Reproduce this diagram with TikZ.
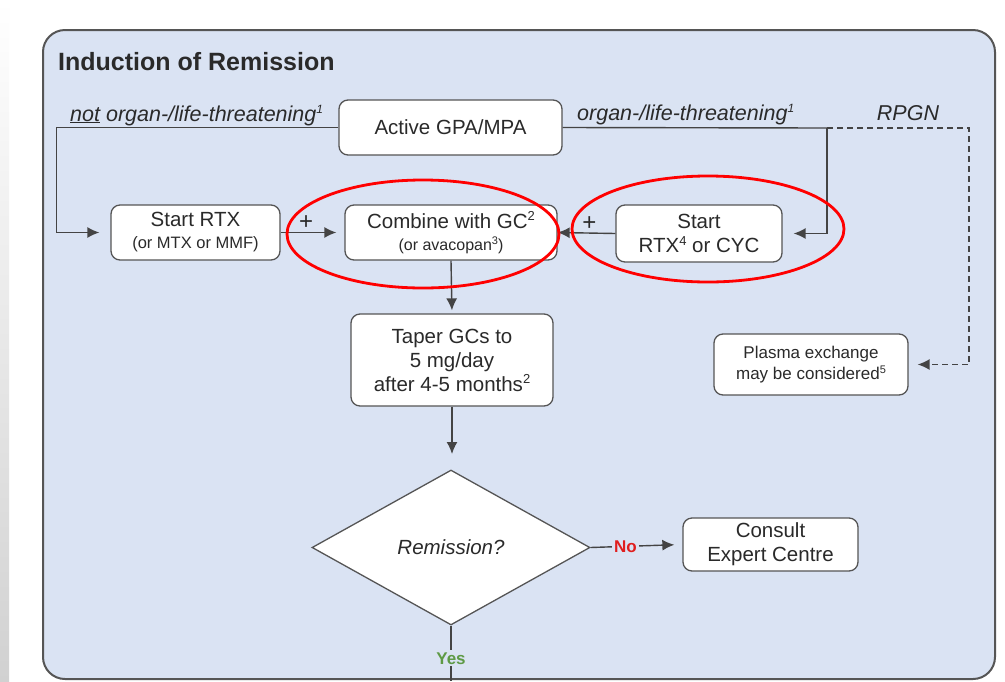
\documentclass[tikz,border=0pt]{standalone}
\usepackage{fontspec}
\setmainfont{Liberation Sans}
\usetikzlibrary{shapes.geometric,arrows.meta}
\definecolor{panelbg}{HTML}{DAE3F3}
\definecolor{edge}{HTML}{555555}
\definecolor{ink}{HTML}{2A2A2A}
\definecolor{nored}{HTML}{E01E1E}
\definecolor{yesgreen}{HTML}{5E9A45}
\newcommand\supx[2]{\raisebox{0.36em}{\fontsize{#1}{#1}\selectfont #2}}
\tikzset{
  box/.style={draw=edge, line width=1.3pt, rounded corners=9pt, fill=white, align=center, inner sep=0pt, text=ink},
  conn/.style={draw=edge!80!black, line width=1.4pt},
  arr/.style={conn, -{Latex[length=12pt,width=11pt]}},
  lbl/.style={text=ink, font=\itshape\fontsize{21.5}{24}\selectfont, inner sep=0pt},
  plus/.style={above=2pt, text=ink, inner sep=0pt, font=\fontsize{24}{24}\selectfont},
  redring/.style={draw=red, line width=2.8pt},
}
\begin{document}
\begin{tikzpicture}[x=1pt,y=-1pt, font=\fontsize{20.5}{24}\selectfont]
\useasboundingbox (0,0) rectangle (1005,681);
\fill[white] (0,0) rectangle (1005,681);
\shade[top color=white, bottom color=black!18] (0,0) rectangle (9,681);
% panel
\draw[draw=edge, line width=2pt, fill=panelbg, rounded corners=22pt] (43,30) rectangle (995,679);
\node[anchor=base west, text=ink, font=\bfseries\fontsize{25}{30}\selectfont, inner sep=0pt] (title) at (58,70) {Induction of Remission};
% nodes
\node[box, minimum width=223pt, minimum height=55pt] (active) at (450.5,127.5) {Active GPA/MPA};
\node[box, minimum width=169pt, minimum height=55pt] (start) at (195.5,232.5) {Start RTX\\[-2pt]{\fontsize{16.5}{18}\selectfont (or MTX or MMF)}};
\node[box, minimum width=212pt, minimum height=55pt] (combine) at (451,232.5) {Combine with GC\supx{13}{2}\\[-2pt]{\fontsize{16}{18}\selectfont (or avacopan\supx{11}{3})}};
\node[box, minimum width=166pt, minimum height=57pt] (startr) at (699,233.5) {Start\\RTX\supx{13}{4} or CYC};
\node[box, minimum width=202pt, minimum height=92pt] (taper) at (452,360) {Taper GCs to\\5 mg/day\\after 4-5 months\supx{13}{2}};
\node[box, minimum width=194pt, minimum height=61pt, font=\fontsize{17}{21}\selectfont] (plasma) at (811,364.5) {Plasma exchange\\may be considered\supx{11}{5}};
\node[diamond, draw=edge, line width=1.3pt, fill=white, minimum width=278pt, minimum height=155pt, inner sep=0pt, text=ink, font=\itshape\fontsize{20.5}{24}\selectfont] (dia) at (451,547.5) {Remission?};
\node[box, minimum width=175pt, minimum height=53pt] (consult) at (770.5,544.5) {Consult\\Expert Centre};
% labels
\node[lbl, anchor=base west] (lnot) at (70,121) {\underline{not} organ-/life-threatening\supx{12}{1}};
\node[lbl, anchor=base west] (lorg) at (577,120) {organ-/life-threatening\supx{12}{1}};
\node[lbl, anchor=base] (lrpgn) at (908,120) {RPGN};
% coordinates
\coordinate (split) at (827,128);
\coordinate (taperend) at (452,454);
\coordinate (yesend) at (451,681);
% connectors
\draw[arr, shorten >=11pt] (active.west) -- ++(-282,0) |- (start.west);
\draw[arr, shorten >=8pt] (start.east) -- (combine.west) node[pos=0.4, plus]{+};
\draw[arr, shorten >=0pt] (startr.west) -- (combine.east) node[pos=0.45, plus]{+};
\draw[conn] (active.east) -- (split);
\draw[arr, shorten >=11pt] (split) |- (startr.east);
\draw[arr, dashed, dash pattern=on 6pt off 4pt, shorten >=9pt] (split) -- ++(142,0) |- (plasma.east);
\draw[arr, shorten >=3pt] (combine.south) -- (taper.north);
\draw[arr] (taper.south) -- (taperend);
\draw[arr, shorten >=8pt] (dia.east) -- (consult.west) node[pos=0.38, fill=panelbg, text=nored, font=\bfseries\fontsize{17}{20}\selectfont, inner sep=2pt]{No};
\draw[conn] (dia.south) -- (yesend) node[pos=0.59, fill=panelbg, text=yesgreen, font=\bfseries\fontsize{17}{20}\selectfont, inner sep=2pt]{Yes};
% red highlight ellipses
\draw[redring] (423,234) ellipse [x radius=136, y radius=54];
\draw[redring] (708,229) ellipse [x radius=136, y radius=53];
\end{tikzpicture}
\end{document}
